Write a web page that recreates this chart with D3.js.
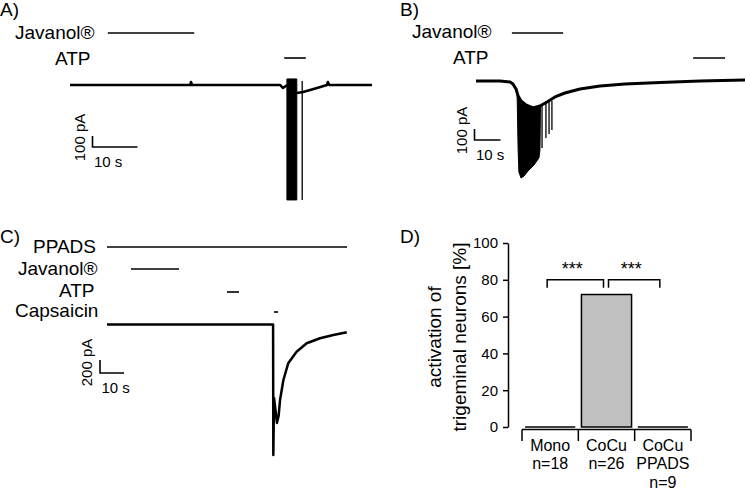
<!DOCTYPE html>
<html><head><meta charset="utf-8">
<script src="https://cdn.jsdelivr.net/npm/d3@7"></script>
<style>
body{margin:0;background:#fff}
svg{display:block}
text{font-family:"Liberation Sans",Arial,Helvetica,sans-serif;fill:#000}
</style>
</head><body>
<svg id="chart" width="745" height="491"></svg>
<script>
// ---------------- DATA ----------------
// Panel A (time in s, current in pA)
const aTraceT = [0, 26.7, 26.9, 27.1, 46.7, 47.3, 48.0, 48.2];
const aTraceI = [0, 0, 27, 0, 0, -27, -9, 0];
const aTrace2T = [50.4, 51.8, 54.9, 57.1, 57.3, 57.6, 67.1];
const aTrace2I = [-73, -64, -27, 0, 27, 0, 0];
const aBurstT = [48.2, 50.4];
const aBurstHi = [55, 55];
const aBurstLo = [-1045, -1045];
const aSpikeT = [51.6];
const aSpikeHi = [36];
const aSpikeLo = [-1045];
const aDrugs = ["Javanol®", "ATP"];
const aDrugStart = [8.4, 47.6];
const aDrugEnd = [27.6, 52.4];

// Panel B
const bTraceT = [0, 9.2, 13.1, 14.2, 15.4, 16.2, 17.3, 19.2, 21.9, 24.6, 27.3, 30.4, 34.2, 40.0, 47.7, 57.3, 70.8, 86.2, 103.5];
const bTraceI = [0, 0, -9, -27, -73, -136, -182, -218, -245, -227, -191, -145, -109, -73, -45, -27, -14, 0, 9];
const bBurstT  = [15.8, 16.2, 16.5, 17.3, 18.5, 20.0, 22.3, 24.2, 24.6, 24.8];
const bBurstHi = [-105, -136, -150, -182, -205, -228, -245, -235, -227, -225];
const bBurstLo = [-110, -627, -827, -882, -864, -818, -764, -700, -627, -230];
const bSpikeT  = [25.4, 26.9, 28.1, 29.2];
const bSpikeHi = [-215, -202, -192, -182];
const bSpikeLo = [-609, -518, -482, -445];
const bDrugs = ["Javanol®", "ATP"];
const bDrugStart = [13.8, 83.5];
const bDrugEnd = [33.5, 95.8];

// Panel C
const cTraceT = [0, 69.2, 69.3, 69.6, 70.2, 70.8, 71.5, 72.1, 73.5, 75.5, 79.0, 83.2, 88.75, 94.3, 99.9];
const cTraceI = [0, 0, -2008, -1131, -1315, -1515, -1408, -1162, -854, -597, -418, -289, -212, -162, -120];
const cDrugs = ["PPADS", "Javanol®", "ATP", "Capsaicin"];
const cDrugStart = [0, 10, 50, 69.6];
const cDrugEnd = [100, 30, 55, 71.3];

// Panel D
const dCategories = ["Mono", "CoCu", "CoCu PPADS"];
const dLabelLines = [["Mono", "n=18"], ["CoCu", "n=26"], ["CoCu", "PPADS", "n=9"]];
const dValues = [0, 72, 0];
const dTicks = [0, 20, 40, 60, 80, 100];
const dSigPairs = [[0, 1], [1, 2]];
const dSigLabels = ["***", "***"];

// ---------------- DRAW ----------------
const svg = d3.select("#chart");
svg.append("rect").attr("width", 745).attr("height", 491).attr("fill", "#fff");

const BIG = 19;

function panelLabel(txt, x, y) {
  svg.append("text").attr("x", x).attr("y", y).attr("font-size", BIG).text(txt);
}

function tracePanel(cfg) {
  const g = svg.append("g");
  const x = cfg.x, y = cfg.y;
  const line = d3.line().x((d) => x(d[0])).y((d) => y(d[1]));
  cfg.traces.forEach((tr) => {
    g.append("path").datum(d3.zip(tr.t, tr.i)).attr("d", line)
      .attr("fill", "none").attr("stroke", "#000").attr("stroke-width", tr.w)
      .attr("stroke-linejoin", "round").attr("stroke-linecap", "butt");
  });
  if (cfg.burst) {
    const area = d3.area().x((d) => x(d[0])).y0((d) => y(d[1])).y1((d) => y(d[2]));
    g.append("path").datum(d3.zip(cfg.burst.t, cfg.burst.lo, cfg.burst.hi)).attr("d", area)
      .attr("fill", "#000").attr("stroke", "#000").attr("stroke-width", 1);
  }
  if (cfg.spikes) {
    cfg.spikes.t.forEach((t, k) => {
      g.append("line").attr("x1", x(t)).attr("x2", x(t))
        .attr("y1", y(cfg.spikes.hi[k])).attr("y2", y(cfg.spikes.lo[k]))
        .attr("stroke", "#000").attr("stroke-width", cfg.spikes.w);
    });
  }
  // drug application bars
  cfg.drugs.forEach((name, k) => {
    const ly = cfg.drugY[k];
    g.append("line").attr("x1", x(cfg.drugStart[k])).attr("x2", x(cfg.drugEnd[k]))
      .attr("y1", ly).attr("y2", ly).attr("stroke", "#000").attr("stroke-width", 1.6);
    g.append("text").attr("x", cfg.labelX[k]).attr("y", cfg.labelY[k])
      .attr("font-size", BIG).text(name);
  });
  // scale bar
  const sb = cfg.scale;
  const w = x(sb.sec) - x(0);
  const h = y(-sb.pA) - y(0);
  g.append("path").attr("d", `M${sb.x},${sb.y - h}V${sb.y}H${sb.x + w}`)
    .attr("fill", "none").attr("stroke", "#000").attr("stroke-width", 1.6);
  g.append("text").attr("x", sb.x + 1.5).attr("y", sb.y + 20).attr("font-size", 15).text(sb.sec + " s");
  g.append("text").attr("transform", `translate(${sb.x - 8},${sb.y - h / 2 - 4}) rotate(-90)`)
    .attr("text-anchor", "middle").attr("font-size", 15).text(sb.pA + " pA");
}

// Panel A
panelLabel("A)", 0, 16);
tracePanel({
  x: d3.scaleLinear().domain([0, 10]).range([70, 115]),
  y: d3.scaleLinear().domain([0, -100]).range([85, 96]),
  traces: [{t: aTraceT, i: aTraceI, w: 2.6}, {t: aTrace2T, i: aTrace2I, w: 2.6}],
  burst: {t: aBurstT, hi: aBurstHi, lo: aBurstLo},
  spikes: {t: aSpikeT, hi: aSpikeHi, lo: aSpikeLo, w: 1.3},
  drugs: aDrugs, drugStart: aDrugStart, drugEnd: aDrugEnd,
  drugY: [33, 58], labelX: [15, 55], labelY: [39, 65],
  scale: {x: 92.5, y: 147, sec: 10, pA: 100}
});

// Panel B
panelLabel("B)", 400, 16);
tracePanel({
  x: d3.scaleLinear().domain([0, 10]).range([476, 502]),
  y: d3.scaleLinear().domain([0, -100]).range([81, 92]),
  traces: [{t: bTraceT, i: bTraceI, w: 3}],
  burst: {t: bBurstT, hi: bBurstHi, lo: bBurstLo},
  spikes: {t: bSpikeT, hi: bSpikeHi, lo: bSpikeLo, w: 1.3},
  drugs: bDrugs, drugStart: bDrugStart, drugEnd: bDrugEnd,
  drugY: [33, 58], labelX: [412, 453], labelY: [38, 64],
  scale: {x: 474.5, y: 140, sec: 10, pA: 100}
});

// Panel C
panelLabel("C)", 0, 243);
tracePanel({
  x: d3.scaleLinear().domain([0, 10]).range([107, 131]),
  y: d3.scaleLinear().domain([0, -200]).range([324.5, 337.5]),
  traces: [{t: cTraceT, i: cTraceI, w: 2.5}],
  drugs: cDrugs, drugStart: cDrugStart, drugEnd: cDrugEnd,
  drugY: [247, 269, 292, 312], labelX: [33, 18, 59, 15], labelY: [253, 275, 297, 317],
  scale: {x: 100, y: 373, sec: 10, pA: 200}
});

// Panel D
panelLabel("D)", 400, 243);
const gD = svg.append("g");
const yD = d3.scaleLinear().domain([0, 100]).range([427, 243]);
const xD = d3.scaleBand().domain(dCategories).range([522, 691]).paddingInner(0.11).paddingOuter(0.055);

const yAxis = gD.append("g").attr("transform", "translate(508,0)")
  .call(d3.axisLeft(yD).tickValues(dTicks).tickSize(5).tickSizeOuter(0).tickPadding(5));
yAxis.selectAll("path,line").attr("stroke", "#000").attr("stroke-width", 1.5);
yAxis.selectAll("text").attr("font-size", 15).attr("font-family", '"Liberation Sans",Arial,sans-serif').attr("fill", "#000");

// x axis bracket
const bounds = d3.range(dCategories.length + 1).map((k) => xD.range()[0] + k * xD.step());
gD.append("line").attr("x1", bounds[0]).attr("x2", bounds[bounds.length - 1])
  .attr("y1", 429.5).attr("y2", 429.5).attr("stroke", "#000").attr("stroke-width", 1.5);
bounds.forEach((bx) => {
  gD.append("line").attr("x1", bx).attr("x2", bx).attr("y1", 429.5).attr("y2", 441)
    .attr("stroke", "#000").attr("stroke-width", 1.5);
});

// bars
dCategories.forEach((c, k) => {
  const x0 = xD(c), x1 = xD(c) + xD.bandwidth();
  const y0 = yD(0), y1 = yD(dValues[k]);
  gD.append("path").attr("d", `M${x0},${y0}V${y1}H${x1}V${y0}Z`)
    .attr("fill", "#c0c0c0").attr("stroke", "#000").attr("stroke-width", 1.5);
});

// category labels
dCategories.forEach((c, k) => {
  const t = gD.append("text").attr("text-anchor", "middle").attr("font-size", 16);
  dLabelLines[k].forEach((s, j) => {
    t.append("tspan").attr("x", xD(c) + xD.bandwidth() / 2).attr("y", 451 + j * 18.3).text(s);
  });
});

// significance brackets
dSigPairs.forEach((p, k) => {
  const xa = xD(dCategories[p[0]]) + xD.bandwidth() / 2 - 3 + (k === 1 ? 5 : 0);
  const xb = xD(dCategories[p[1]]) + xD.bandwidth() / 2 - 3;
  const yb = yD(80);
  gD.append("path").attr("d", `M${xa},${yb + 8}V${yb}H${xb}V${yb + 8}`)
    .attr("fill", "none").attr("stroke", "#000").attr("stroke-width", 1.5);
  gD.append("text").attr("x", (xa + xb) / 2 - 3).attr("y", 275).attr("text-anchor", "middle")
    .attr("font-size", 18).text(dSigLabels[k]);
});

// y title
const yt = gD.append("text").attr("font-size", BIG).attr("text-anchor", "middle")
  .attr("transform", "translate(441,337) rotate(-90)");
yt.append("tspan").attr("x", 0).attr("y", 0).text("activation of");
yt.append("tspan").attr("x", 0).attr("y", 25).text("trigeminal neurons [%]");
</script>
</body></html>
